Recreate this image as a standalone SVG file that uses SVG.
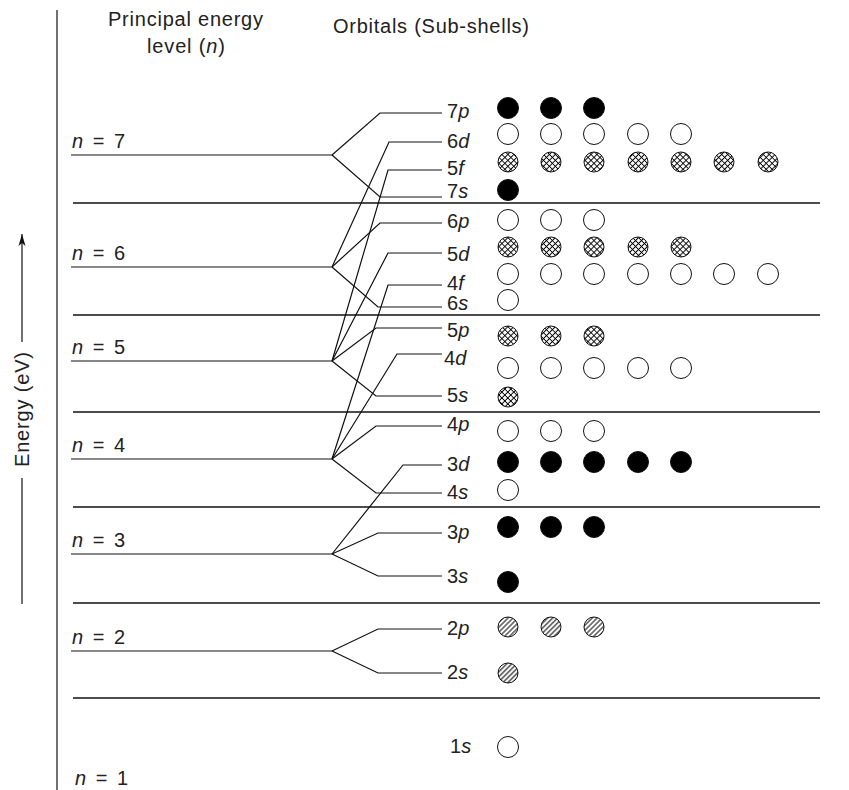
<svg xmlns="http://www.w3.org/2000/svg" width="849" height="790" viewBox="0 0 849 790">
<style>
text{font-family:"Liberation Sans",Arial,sans-serif;fill:#222;font-size:20px}
.it{font-style:italic}
.ln{stroke:#111;stroke-width:1.2;fill:none}
.sep{stroke:#111;stroke-width:1.3;fill:none}
circle{stroke:#111;stroke-width:1}
.w{fill:#fff}
.b{fill:#000}
.x{fill:url(#xh)}
.d{fill:url(#dh)}
</style>
<defs>
<pattern id="xh" patternUnits="userSpaceOnUse" width="4.2" height="4.2" patternTransform="rotate(45)">
<rect width="4.2" height="4.2" fill="#fff"/>
<path d="M0 2.1H4.2M2.1 0V4.2" stroke="#000" stroke-width="1"/>
</pattern>
<pattern id="dh" patternUnits="userSpaceOnUse" width="3.5" height="3.5" patternTransform="rotate(45)">
<rect width="3.5" height="3.5" fill="#fff"/>
<path d="M1.75 0V3.5" stroke="#000" stroke-width="1"/>
</pattern>
<marker id="ah" viewBox="0 0 12 8" refX="12" refY="4" markerWidth="12" markerHeight="8" orient="auto" markerUnits="userSpaceOnUse">
<path d="M0 0.5L12 4L0 7.5L3 4Z" fill="#111"/>
</marker>
</defs>

<g id="frame">
<line class="ln" x1="57" y1="10" x2="57" y2="790"/>
<g id="separators">
<line class="sep" x1="73" y1="203" x2="820" y2="203"/>
<line class="sep" x1="73" y1="315" x2="820" y2="315"/>
<line class="sep" x1="73" y1="412" x2="820" y2="412"/>
<line class="sep" x1="73" y1="507" x2="820" y2="507"/>
<line class="sep" x1="73" y1="603" x2="820" y2="603"/>
<line class="sep" x1="73" y1="698" x2="820" y2="698"/>
</g>
</g>

<g id="headers">
<text x="108" y="26" textLength="155" lengthAdjust="spacing">Principal energy</text>
<text x="147" y="53" textLength="78" lengthAdjust="spacing">level (<tspan class="it">n</tspan>)</text>
<text x="333" y="33" textLength="196" lengthAdjust="spacing">Orbitals (Sub-shells)</text>
</g>

<g id="energy-axis">
<line class="ln" x1="22" y1="342" x2="22" y2="234" marker-end="url(#ah)"/>
<line class="ln" x1="22" y1="478" x2="22" y2="604"/>
<text transform="translate(29,467) rotate(-90)" textLength="115" lengthAdjust="spacing">Energy (eV)</text>
</g>

<g id="levels">
<g id="n7"><text x="72" y="148" textLength="53" lengthAdjust="spacing"><tspan class="it">n</tspan> = 7</text><line class="ln" x1="71" y1="155" x2="332" y2="155"/></g>
<g id="n6"><text x="72" y="260" textLength="53" lengthAdjust="spacing"><tspan class="it">n</tspan> = 6</text><line class="ln" x1="71" y1="267" x2="332" y2="267"/></g>
<g id="n5"><text x="72" y="354" textLength="53" lengthAdjust="spacing"><tspan class="it">n</tspan> = 5</text><line class="ln" x1="71" y1="361" x2="332" y2="361"/></g>
<g id="n4"><text x="72" y="452" textLength="53" lengthAdjust="spacing"><tspan class="it">n</tspan> = 4</text><line class="ln" x1="71" y1="459" x2="332" y2="459"/></g>
<g id="n3"><text x="72" y="547" textLength="53" lengthAdjust="spacing"><tspan class="it">n</tspan> = 3</text><line class="ln" x1="71" y1="554" x2="332" y2="554"/></g>
<g id="n2"><text x="72" y="644" textLength="53" lengthAdjust="spacing"><tspan class="it">n</tspan> = 2</text><line class="ln" x1="71" y1="651" x2="332" y2="651"/></g>
<g id="n1"><text x="75" y="785" textLength="53" lengthAdjust="spacing"><tspan class="it">n</tspan> = 1</text></g>
</g>

<g id="connectors">
<polyline class="ln" points="332,155 380,113 442,113"/>
<polyline class="ln" points="332,155 380,197 442,197"/>
<polyline class="ln" points="332,267 389,142 442,142"/>
<polyline class="ln" points="332,267 380,223 442,223"/>
<polyline class="ln" points="332,267 378,307 442,307"/>
<polyline class="ln" points="332,361 388,170 442,170"/>
<polyline class="ln" points="332,361 388,253 442,253"/>
<polyline class="ln" points="332,361 376,328 442,328"/>
<polyline class="ln" points="332,361 376,396 442,396"/>
<polyline class="ln" points="332,459 388,285 442,285"/>
<polyline class="ln" points="332,459 397,354 442,354"/>
<polyline class="ln" points="332,459 376,426 442,426"/>
<polyline class="ln" points="332,459 376,493 442,493"/>
<polyline class="ln" points="332,554 403,465 442,465"/>
<polyline class="ln" points="332,554 378,533 442,533"/>
<polyline class="ln" points="332,554 378,576 442,576"/>
<polyline class="ln" points="332,651 378,629 442,629"/>
<polyline class="ln" points="332,651 378,673 442,673"/>
</g>

<g id="orbitals">
<g id="o7p"><text x="447" y="118">7<tspan class="it">p</tspan></text>
<circle class="b" cx="508" cy="108" r="10.5"/><circle class="b" cx="551" cy="108" r="10.5"/><circle class="b" cx="594" cy="108" r="10.5"/></g>
<g id="o6d"><text x="447" y="148">6<tspan class="it">d</tspan></text>
<circle class="w" cx="508" cy="134" r="10.5"/><circle class="w" cx="551" cy="134" r="10.5"/><circle class="w" cx="594" cy="134" r="10.5"/><circle class="w" cx="638" cy="134" r="10.5"/><circle class="w" cx="681" cy="134" r="10.5"/></g>
<g id="o5f"><text x="447" y="175">5<tspan class="it">f</tspan></text>
<circle class="x" cx="508" cy="162" r="10"/><circle class="x" cx="551" cy="162" r="10"/><circle class="x" cx="594" cy="162" r="10"/><circle class="x" cx="638" cy="162" r="10"/><circle class="x" cx="681" cy="162" r="10"/><circle class="x" cx="724" cy="162" r="10"/><circle class="x" cx="768" cy="162" r="10"/></g>
<g id="o7s"><text x="447" y="198">7<tspan class="it">s</tspan></text>
<circle class="b" cx="508" cy="190" r="10.5"/></g>
<g id="o6p"><text x="447" y="228">6<tspan class="it">p</tspan></text>
<circle class="w" cx="508" cy="220" r="10.5"/><circle class="w" cx="551" cy="220" r="10.5"/><circle class="w" cx="594" cy="220" r="10.5"/></g>
<g id="o5d"><text x="447" y="261">5<tspan class="it">d</tspan></text>
<circle class="x" cx="508" cy="247" r="10"/><circle class="x" cx="551" cy="247" r="10"/><circle class="x" cx="594" cy="247" r="10"/><circle class="x" cx="638" cy="247" r="10"/><circle class="x" cx="681" cy="247" r="10"/></g>
<g id="o4f"><text x="447" y="290">4<tspan class="it">f</tspan></text>
<circle class="w" cx="508" cy="274" r="10.5"/><circle class="w" cx="551" cy="274" r="10.5"/><circle class="w" cx="594" cy="274" r="10.5"/><circle class="w" cx="638" cy="274" r="10.5"/><circle class="w" cx="681" cy="274" r="10.5"/><circle class="w" cx="724" cy="274" r="10.5"/><circle class="w" cx="768" cy="274" r="10.5"/></g>
<g id="o6s"><text x="447" y="310">6<tspan class="it">s</tspan></text>
<circle class="w" cx="508" cy="300" r="10.5"/></g>
<g id="o5p"><text x="447" y="337">5<tspan class="it">p</tspan></text>
<circle class="x" cx="508" cy="336" r="10"/><circle class="x" cx="551" cy="336" r="10"/><circle class="x" cx="594" cy="336" r="10"/></g>
<g id="o4d"><text x="444" y="365">4<tspan class="it">d</tspan></text>
<circle class="w" cx="508" cy="368" r="10.5"/><circle class="w" cx="551" cy="368" r="10.5"/><circle class="w" cx="594" cy="368" r="10.5"/><circle class="w" cx="638" cy="368" r="10.5"/><circle class="w" cx="681" cy="368" r="10.5"/></g>
<g id="o5s"><text x="447" y="402">5<tspan class="it">s</tspan></text>
<circle class="x" cx="508" cy="397" r="10"/></g>
<g id="o4p"><text x="447" y="431">4<tspan class="it">p</tspan></text>
<circle class="w" cx="508" cy="431" r="10.5"/><circle class="w" cx="551" cy="431" r="10.5"/><circle class="w" cx="594" cy="431" r="10.5"/></g>
<g id="o3d"><text x="447" y="471">3<tspan class="it">d</tspan></text>
<circle class="b" cx="508" cy="462" r="10.5"/><circle class="b" cx="551" cy="462" r="10.5"/><circle class="b" cx="594" cy="462" r="10.5"/><circle class="b" cx="638" cy="462" r="10.5"/><circle class="b" cx="681" cy="462" r="10.5"/></g>
<g id="o4s"><text x="447" y="499">4<tspan class="it">s</tspan></text>
<circle class="w" cx="508" cy="490" r="10.5"/></g>
<g id="o3p"><text x="447" y="539">3<tspan class="it">p</tspan></text>
<circle class="b" cx="508" cy="527" r="10.5"/><circle class="b" cx="551" cy="527" r="10.5"/><circle class="b" cx="594" cy="527" r="10.5"/></g>
<g id="o3s"><text x="447" y="583">3<tspan class="it">s</tspan></text>
<circle class="b" cx="508" cy="582" r="10.5"/></g>
<g id="o2p"><text x="447" y="635">2<tspan class="it">p</tspan></text>
<circle class="d" cx="508" cy="627" r="10"/><circle class="d" cx="551" cy="627" r="10"/><circle class="d" cx="594" cy="627" r="10"/></g>
<g id="o2s"><text x="447" y="679">2<tspan class="it">s</tspan></text>
<circle class="d" cx="508" cy="673" r="10"/></g>
<g id="o1s"><text x="450" y="753">1<tspan class="it">s</tspan></text>
<circle class="w" cx="508" cy="747" r="10.5"/></g>
</g>
</svg>
